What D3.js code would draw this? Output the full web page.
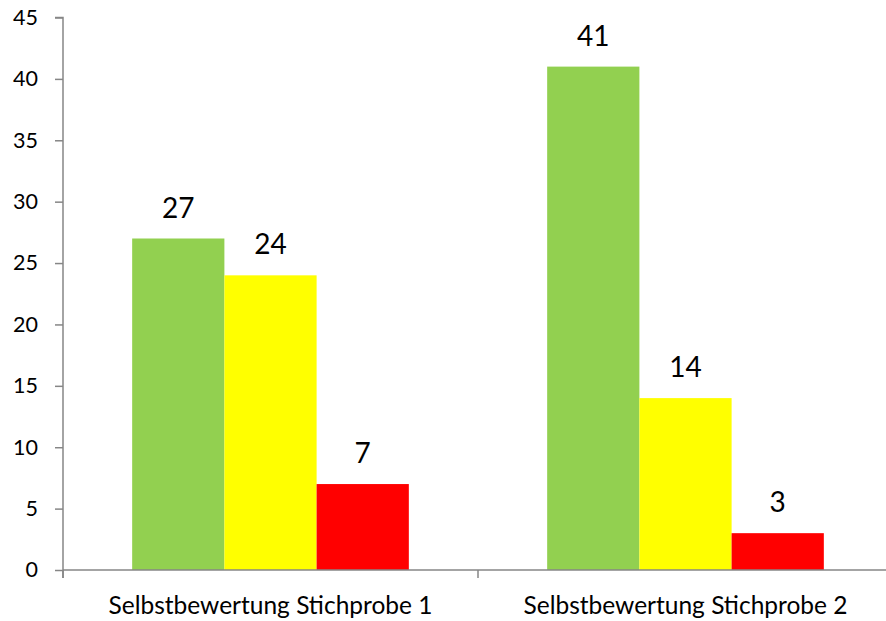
<!DOCTYPE html>
<html>
<head>
<meta charset="utf-8">
<script src="https://cdn.jsdelivr.net/npm/d3@7"></script>
<style>
  body { margin: 0; background: #fff; }
  svg { display: block; }
  svg text { font-family: Lato, sans-serif; }
</style>
</head>
<body>
<div class="chart"></div>
<script>
// data
var categories = ["Selbstbewertung Stichprobe 1", "Selbstbewertung Stichprobe 2"];
var seriesNames = ["gruen", "gelb", "rot"];
var seriesColors = ["#92D050", "#FFFF00", "#FF0000"];
var valuesGreen = [27, 41];
var valuesYellow = [24, 14];
var valuesRed = [7, 3];
var yTicks = [0, 5, 10, 15, 20, 25, 30, 35, 40, 45];

var svgWidth = 886;
var svgHeight = 621;

var margin = { top: 17.5, right: -7, bottom: 51, left: 63 };
var width = svgWidth - margin.left - margin.right;
var height = svgHeight - margin.top - margin.bottom;

var allValues = [valuesGreen, valuesYellow, valuesRed];
var rows = categories.map(function(c, i) {
  return { cat: c, vals: seriesNames.map(function(s, j) { return { key: s, color: seriesColors[j], value: allValues[j][i] }; }) };
});

var svg = d3.select(".chart").append("svg")
  .attr("width", svgWidth)
  .attr("height", svgHeight);

var chartGroup = svg.append("g")
  .attr("transform", `translate(${margin.left}, ${margin.top})`);

var x0 = d3.scaleBand().domain(categories).range([0, width]).padding(0);
// excel style: gap width 150%
var x1 = d3.scaleBand().domain(seriesNames).range([0, x0.bandwidth()]).paddingInner(0).paddingOuter(0.75);
var y = d3.scaleLinear().domain([0, 45]).range([height, 0]);

var axisColor = "#868686";

// y axis
var leftAxis = d3.axisLeft(y).tickValues(yTicks).tickSize(8).tickPadding(17);
var yAxis = chartGroup.append("g").call(leftAxis).attr("font-family", null);
yAxis.select(".domain").attr("stroke", axisColor).attr("stroke-width", 1.5).attr("d", `M0,${height + 8}V0H-8`);
yAxis.selectAll(".tick line").attr("stroke", axisColor).attr("stroke-width", 1.5);
yAxis.selectAll(".tick text").attr("fill", "#000").style("font-size", "21.5px");

// bars
var groups = chartGroup.selectAll(".grp")
  .data(rows)
  .enter()
  .append("g")
  .attr("transform", d => `translate(${x0(d.cat)},0)`);

groups.selectAll("rect")
  .data(d => d.vals)
  .enter()
  .append("rect")
  .attr("x", d => x1(d.key))
  .attr("y", d => y(d.value))
  .attr("width", x1.bandwidth())
  .attr("height", d => height - y(d.value))
  .attr("fill", d => d.color);

groups.selectAll(".lbl")
  .data(d => d.vals)
  .enter()
  .append("text")
  .attr("class", "lbl")
  .attr("x", d => x1(d.key) + x1.bandwidth() / 2)
  .attr("y", d => y(d.value) - 21)
  .attr("text-anchor", "middle")
  .style("font-size", "28px")
  .text(d => d.value);

// x axis
var bottomAxis = d3.axisBottom(x0).tickSize(0).tickPadding(27);
var xAxis = chartGroup.append("g")
  .attr("transform", `translate(0, ${height})`)
  .call(bottomAxis).attr("font-family", null);
xAxis.select(".domain").attr("stroke", axisColor).attr("stroke-width", 1.5).attr("d", `M0,0H${width}`);
xAxis.selectAll(".tick text").attr("fill", "#000").style("font-size", "24.5px");

// divider ticks between categories
var divs = [0, x0.bandwidth(), width];
xAxis.selectAll(".div")
  .data(divs)
  .enter()
  .append("line")
  .attr("x1", d => d).attr("x2", d => d)
  .attr("y1", 0).attr("y2", 8)
  .attr("stroke", axisColor)
  .attr("stroke-width", 1.5);
</script>
</body>
</html>
